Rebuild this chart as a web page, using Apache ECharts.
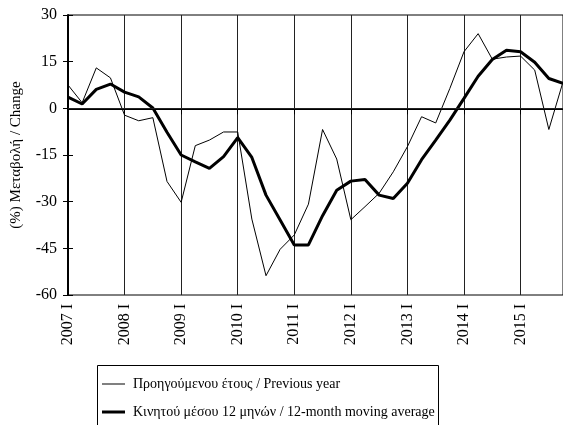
<!DOCTYPE html>
<html>
<head>
<meta charset="utf-8">
<script src="https://cdn.jsdelivr.net/npm/echarts@6/dist/echarts.min.js"></script>
<style>
html,body{margin:0;padding:0;background:#fff;}
#c{width:563px;height:425px;}
</style>
</head>
<body>
<div id="c"></div>
<script>
// Quarterly categories 2007 I .. 2015 IV
const years = [2007, 2008, 2009, 2010, 2011, 2012, 2013, 2014, 2015];
const quarters = ['I', 'II', 'III', 'IV'];
const categories = [];
years.forEach(y => quarters.forEach(q => categories.push(y + ' ' + q)));

const previousYear = [
  7.5, 1.8, 13, 9.8,
  -2.2, -4, -3, -23.5,
  -30.2, -12, -10.2, -7.6,
  -7.6, -35.6, -53.8, -45.3,
  -40.7, -30.8, -6.8, -16.3,
  -35.8, -31.6, -27.3, -20.4,
  -12.3, -2.7, -4.7, 6.4,
  18.2, 24, 15.8, 16.5,
  16.8, 12.3, -6.8, 8.5
];
const movingAverage = [
  3.6, 1.4, 6.1, 7.8,
  5.2, 3.7, 0.1, -7.7,
  -15, -17.2, -19.3, -15.5,
  -9.4, -15.8, -27.9, -35.9,
  -43.9, -43.9, -34.5, -26.3,
  -23.4, -22.9, -27.9, -29,
  -24.1, -16.5, -10.2, -3.8,
  3.2, 10.3, 15.7, 18.7,
  18.2, 14.8, 9.6, 8
];
const seriesNames = ['Προηγούμενου έτους / Previous year', 'Κινητού μέσου 12 μηνών / 12-month moving average'];
const yAxisName = '(%) Μεταβολή / Change';

const font = '"Liberation Serif", "DejaVu Serif", serif';
const legendBase = {
  left: 102,
  itemGap: 0,
  itemWidth: 23,
  icon: 'rect',
  padding: 0,
  textStyle: { color: '#000', fontFamily: font, fontSize: 14, fontWeight: 'normal', padding: [0, 0, 0, 3] },
  itemStyle: { color: '#000', borderWidth: 0 },
  selectedMode: false
};
const chart = echarts.init(document.getElementById('c'));
chart.setOption({
  animation: false,
  grid: { left: 68, right: -2, top: 15, bottom: 130, show: true, borderColor: '#000', borderWidth: 1, containLabel: false },
  xAxis: {
    type: 'category',
    data: categories,
    boundaryGap: false,
    axisLine: { show: true, lineStyle: { color: '#000', width: 2 } },
    axisTick: { show: true, interval: 3, length: 6, lineStyle: { color: '#000' } },
    axisLabel: { interval: 3, rotate: 90, margin: 9, color: '#000', fontFamily: font, fontSize: 16 },
    splitLine: { show: true, interval: 3, lineStyle: { color: '#222', width: 1 } }
  },
  yAxis: [{
    type: 'value',
    min: -60, max: 30, interval: 15,
    name: yAxisName,
    nameLocation: 'middle',
    nameGap: 44,
    nameRotate: 90,
    nameTextStyle: { color: '#000', fontFamily: font, fontSize: 15, fontWeight: 'normal' },
    axisLine: { show: true, lineStyle: { color: '#000', width: 2 } },
    axisTick: { show: true, length: 5, lineStyle: { color: '#000' } },
    axisLabel: { color: '#000', fontFamily: font, fontSize: 16, margin: 11 },
    splitLine: { show: false }
  }, {
    type: 'value',
    min: -60, max: 30, interval: 15,
    position: 'left',
    axisLine: { show: false },
    axisTick: { show: true, inside: true, length: 5, lineStyle: { color: '#000' } },
    axisLabel: { show: false },
    splitLine: { show: false }
  }],
  legend: [
    Object.assign({}, legendBase, { top: 377, itemHeight: 1, data: [seriesNames[0]] }),
    Object.assign({}, legendBase, { top: 405, itemHeight: 3, data: [seriesNames[1]] })
  ],
  graphic: [{
    type: 'rect',
    shape: { x: 97.5, y: 365.5, width: 341, height: 80 },
    style: { fill: 'none', stroke: '#000', lineWidth: 1 },
    silent: true
  }],
  series: [{
    name: seriesNames[0],
    type: 'line',
    data: previousYear,
    symbol: 'none',
    color: '#000',
    lineStyle: { color: '#000', width: 1 },
    markLine: {
      silent: true, symbol: 'none', label: { show: false },
      lineStyle: { color: '#222', width: 1, type: 'solid' },
      data: [{ yAxis: 0 }]
    },
    z: 3
  }, {
    name: seriesNames[1],
    type: 'line',
    data: movingAverage,
    symbol: 'none',
    color: '#000',
    lineStyle: { color: '#000', width: 3 },
    z: 4
  }]
});
</script>
</body>
</html>
